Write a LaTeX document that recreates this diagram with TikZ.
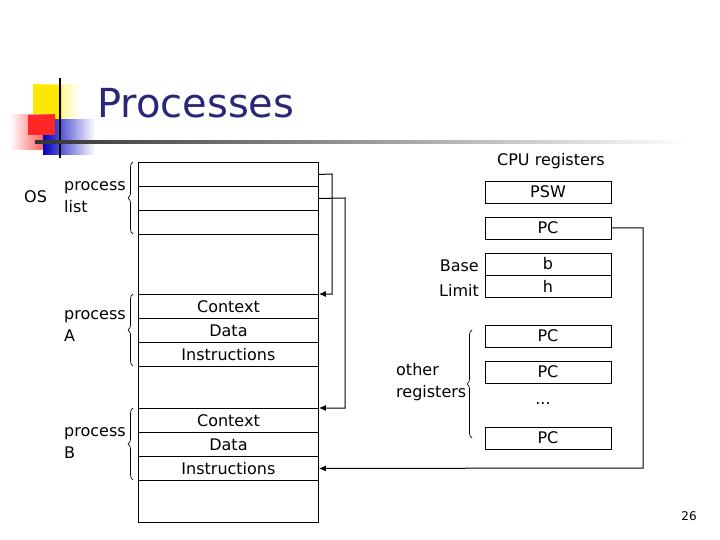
\documentclass[tikz,border=0pt]{standalone}
\usepackage{fontspec}
\setmainfont{DejaVu Sans}
\usetikzlibrary{decorations.pathreplacing,arrows.meta}
\begin{document}
\begin{tikzpicture}[x=1pt,y=-1pt,
  cell/.style={draw,line width=0.9pt,minimum width=180pt,minimum height=24pt,anchor=north west,inner sep=0pt,font=\fontsize{16}{22}\selectfont},
  reg/.style={draw,line width=0.9pt,minimum width=126pt,minimum height=22pt,inner sep=0pt,font=\fontsize{16}{22}\selectfont},
  lbl/.style={font=\fontsize{16}{22}\selectfont,inner sep=0pt},
  brc/.style={decorate,decoration={brace,amplitude=5pt},line width=0.7pt},
  conn/.style={-{Latex[length=7pt,width=6pt]},line width=1pt}]
\useasboundingbox (0,0) rectangle (720,540);
% logo
\shade[left color=yellow!90!orange,right color=white] (33,85) rectangle (80,125);
\fill[yellow!90!orange] (33,85) rectangle (62,125);
\shade[left color=white,right color=red!85] (10,115) rectangle (55,150);
\shade[left color=blue!75!black,right color=white] (43,120) rectangle (95,155);
\fill[red!85] (28,115) rectangle (55,135);
\draw[line width=1.4pt] (60,78) -- (60,158);
\shade[left color=black!80,right color=white] (35,141) rectangle (690,144);
\node[lbl,anchor=west,font=\fontsize{40}{44}\selectfont,text={rgb,255:red,40;green,40;blue,120}] (title) at (97,103) {Processes};
% memory column
\node[cell] (p1) at (138,162) {};
\node[cell] (p2) at (138,186) {};
\node[cell] (p3) at (138,210) {};
\node[cell,minimum height=60pt] (gap1) at (138,234) {};
\node[cell] (a1) at (138,294) {Context};
\node[cell] (a2) at (138,318) {Data};
\node[cell] (a3) at (138,342) {Instructions};
\node[cell,minimum height=42pt] (gap2) at (138,366) {};
\node[cell] (b1) at (138,408) {Context};
\node[cell] (b2) at (138,432) {Data};
\node[cell] (b3) at (138,456) {Instructions};
\node[cell,minimum height=42pt] (gap3) at (138,480) {};
% left labels
\node[lbl,anchor=west] (os) at (24,197) {OS};
\node[lbl,anchor=west,align=left] (pl) at (64,197) {process\\list};
\node[lbl,anchor=west,align=left] (pa) at (64,326) {process\\A};
\node[lbl,anchor=west,align=left] (pb) at (64,443) {process\\B};
\draw[brc] (133,234) -- (133,162);
\draw[brc] (133,366) -- (133,294);
\draw[brc] (133,480) -- (133,408);
% registers
\node[lbl] (cpu) at (551,161) {CPU registers};
\node[reg] (psw) at (548,192) {PSW};
\node[reg] (pc0) at (548,228) {PC};
\node[reg] (rb) at (548,264) {b};
\node[reg] (rh) at (548,286) {h};
\node[lbl,anchor=east] (base) at (479,266) {Base};
\node[lbl,anchor=east] (lim) at (479,290) {Limit};
\node[reg] (pc1) at (548,336) {PC};
\node[reg] (pc2) at (548,372) {PC};
\node[lbl] (dots) at (543,404) {...};
\node[reg] (pc3) at (548,438) {PC};
\node[lbl,anchor=west,align=left] (oth) at (396,382) {other\\registers};
\draw[brc] (472,438) -- (472,330);
\node[lbl,font=\fontsize{12}{14}\selectfont] (pg) at (689,516) {26};
% connectors
\draw[conn] (p1.east) -- (332,174) -- (332,294) -- (a1.north east);
\draw[conn] (p2.east) -- (345,198) -- (345,408) -- (b1.north east);
\draw[conn] (pc0.east) -- (643,228) -- (643,468) -- (b3.east);
\end{tikzpicture}
\end{document}
